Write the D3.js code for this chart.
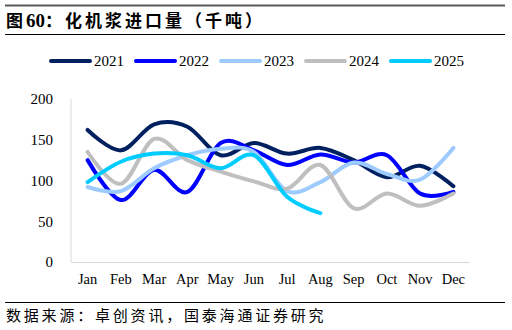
<!DOCTYPE html>
<html><head><meta charset="utf-8">
<script src="https://cdn.jsdelivr.net/npm/d3@7"></script>
<style>body{margin:0;background:#fff}svg{display:block}</style>
</head><body>
<svg id="c" width="512" height="330"></svg>
<script>
const months = ["Jan","Feb","Mar","Apr","May","Jun","Jul","Aug","Sep","Oct","Nov","Dec"];
const years = ["2021","2022","2023","2024","2025"];
const colors = ["#002060","#0000FF","#9DCBFF","#BFBFBF","#00CCFF"];
const v2021 = [162,137,169,166,131,146,133,140,125,104,118,93];
const v2022 = [125,76,113,86,146,137,119,132,122,131,84,86];
const v2023 = [92,87,115,131,139,135,87,98,122,108,101,140];
const v2024 = [135,96,151,125,111,99,90,119,66,84,69,84];
const v2025 = [98,123,133,131,115,131,80,60];
const series = [v2021,v2022,v2023,v2024,v2025];
const yTicks = [0,50,100,150,200];

const svg = d3.select("#c");
const cjk = "Noto Sans CJK SC";
const serif = "Liberation Serif";

// header rules & title
svg.append("line").attr("x1",5).attr("x2",505).attr("y1",5.5).attr("y2",5.5).attr("stroke","#595959").attr("stroke-width",2);
svg.append("line").attr("x1",5).attr("x2",505).attr("y1",34.5).attr("y2",34.5).attr("stroke","#000").attr("stroke-width",1);
const title = svg.append("text").attr("x",6).attr("y",27).attr("font-family",cjk).attr("font-weight","bold").attr("font-size",17).attr("fill","#000")
  .attr("letter-spacing",3);
title.append("tspan").text("图");
title.append("tspan").attr("font-family",serif).attr("font-size",19).attr("letter-spacing",0).text("60");
title.append("tspan").text("：化机浆进口量（千吨）");

// footer
svg.append("line").attr("x1",5).attr("x2",505).attr("y1",302.5).attr("y2",302.5).attr("stroke","#000").attr("stroke-width",1);
svg.append("text").attr("x",6).attr("y",321).attr("font-family",cjk).attr("font-size",15).attr("fill","#000")
  .attr("letter-spacing",2.8)
  .text("数据来源：卓创资讯，国泰海通证券研究");

const x = d3.scaleBand().domain(months).range([71,470]);
const y = d3.scaleLinear().domain([0,200]).range([262,99]);

// axes lines
svg.append("line").attr("x1",71).attr("x2",71).attr("y1",99).attr("y2",262).attr("stroke","#d9d9d9");
svg.append("line").attr("x1",71).attr("x2",470).attr("y1",262.5).attr("y2",262.5).attr("stroke","#d9d9d9");

const yAxis = svg.append("g").attr("transform","translate(53,0)")
  .call(d3.axisLeft(y).tickValues(yTicks).tickSize(0).tickPadding(0));
yAxis.attr("font-family",serif).attr("font-size",15);
yAxis.select(".domain").remove();
yAxis.selectAll("text").attr("font-family",serif).attr("font-size",15).attr("fill","#000");

const xAxis = svg.append("g").attr("transform","translate(0,274)")
  .call(d3.axisBottom(x).tickSize(0).tickPadding(0));
xAxis.attr("font-family",serif).attr("font-size",14.5);
xAxis.select(".domain").remove();
xAxis.selectAll("text").attr("font-family",serif).attr("font-size",14.5).attr("fill","#000");

const line = d3.line().x((d,i)=>x(months[i])+x.bandwidth()/2).y(d=>y(d)).curve(d3.curveCatmullRom.alpha(0));
series.forEach((s,k)=>{
  svg.append("path").datum(s).attr("d",line).attr("fill","none").attr("stroke",colors[k])
    .attr("stroke-width",4).attr("stroke-linecap","round").attr("stroke-linejoin","round");
});

// legend
years.forEach((yr,k)=>{
  const lx = 51 + k*85;
  svg.append("line").attr("x1",lx).attr("x2",lx+39).attr("y1",61).attr("y2",61).attr("stroke",colors[k]).attr("stroke-width",4).attr("stroke-linecap","round");
  svg.append("text").attr("x",lx+43).attr("y",66).attr("font-family",serif).attr("font-size",15).attr("fill","#000").text(yr);
});
</script>
</body></html>
